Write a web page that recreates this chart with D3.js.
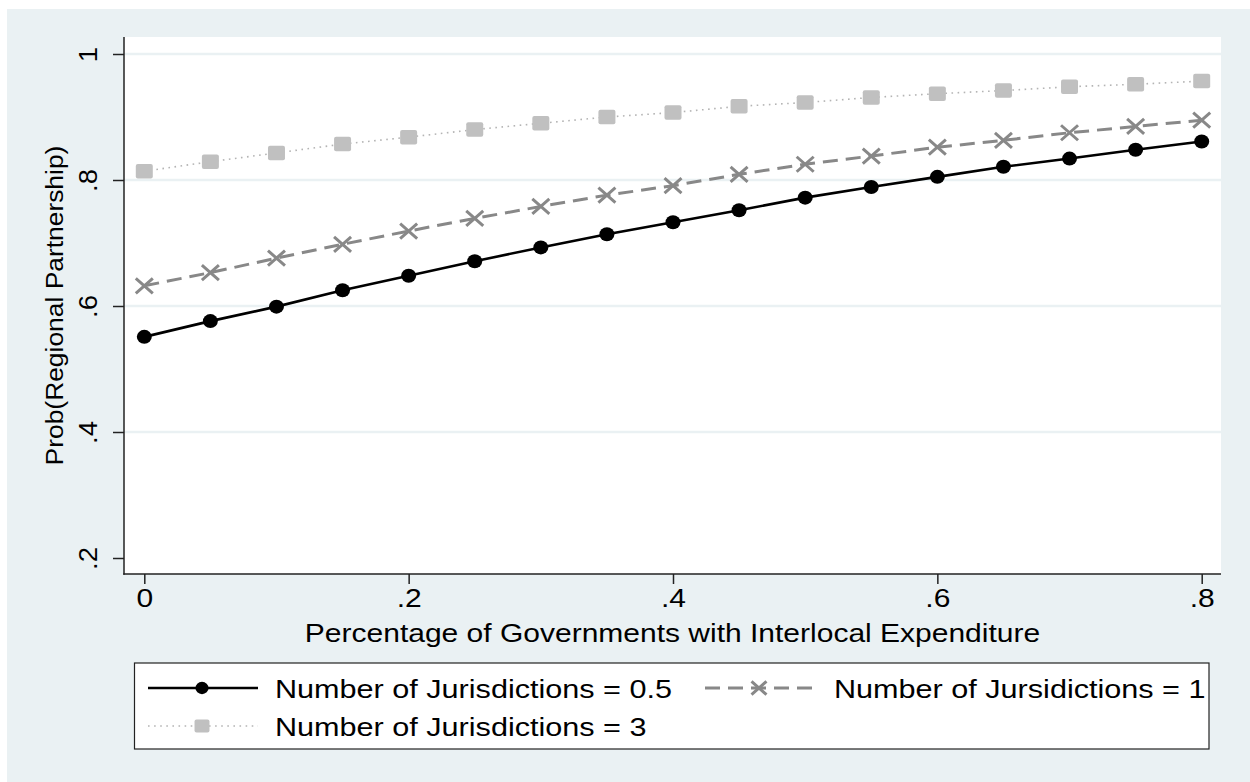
<!DOCTYPE html>
<html>
<head>
<meta charset="utf-8">
<script src="https://cdn.jsdelivr.net/npm/d3@7"></script>
<style>
  html, body { margin: 0; padding: 0; background: #ffffff; }
  svg { display: block; }
  text { font-family: "Liberation Sans", Arial, Helvetica, sans-serif; fill: #000; }
</style>
</head>
<body>
<svg id="chart" width="1250" height="782"></svg>
<script>
// Share of governments with interlocal expenditure (x values)
const shareInterlocal = [0, 0.05, 0.10, 0.15, 0.20, 0.25, 0.30, 0.35, 0.40,
                         0.45, 0.50, 0.55, 0.60, 0.65, 0.70, 0.75, 0.80];

// Predicted probability of a regional partnership, by number of jurisdictions
const probJur05 = [0.551, 0.576, 0.599, 0.625, 0.648, 0.671, 0.693, 0.714, 0.733,
                   0.752, 0.772, 0.789, 0.805, 0.821, 0.834, 0.848, 0.861];
const probJur1  = [0.632, 0.653, 0.676, 0.698, 0.719, 0.739, 0.758, 0.776, 0.791,
                   0.809, 0.825, 0.838, 0.852, 0.863, 0.875, 0.885, 0.895];
const probJur3  = [0.814, 0.829, 0.843, 0.857, 0.868, 0.880, 0.890, 0.900, 0.907,
                   0.917, 0.923, 0.931, 0.937, 0.942, 0.948, 0.952, 0.957];

const seriesLabels = ["Number of Jurisdictions = 0.5",
                      "Number of Jursidictions = 1",
                      "Number of Jurisdictions = 3"];

const xTickValues = [0, 0.2, 0.4, 0.6, 0.8];
const xTickLabels = ["0", ".2", ".4", ".6", ".8"];
const yTickValues = [0.2, 0.4, 0.6, 0.8, 1];
const yTickLabels = [".2", ".4", ".6", ".8", "1"];
const gridValues  = [0.4, 0.6, 0.8, 1];

const xTitle = "Percentage of Governments with Interlocal Expenditure";
const yTitle = "Prob(Regional Partnership)";

// ---- layout ----
const svg = d3.select("#chart");
const graphBg = "#eaf1f3";
const plot = { left: 124, right: 1221, top: 37, bottom: 574 };
const textStretch = 1.2;   // wide rendering of horizontal text
const rotStretch = 1.1;    // stretch along rotated text

const x = d3.scaleLinear().domain([0, 0.8]).range([144.3, 1201.7]);
const y = d3.scaleLinear().domain([0.2, 1]).range([558, 54]);

// graph region background
svg.append("rect").attr("x", 7).attr("y", 9).attr("width", 1243).attr("height", 773)
  .attr("fill", graphBg);

// plot region
svg.append("rect")
  .attr("x", plot.left).attr("y", plot.top)
  .attr("width", plot.right - plot.left).attr("height", plot.bottom - plot.top)
  .attr("fill", "#ffffff");

// horizontal grid lines
svg.append("g").selectAll("line").data(gridValues).join("line")
  .attr("x1", plot.left).attr("x2", plot.right)
  .attr("y1", d => y(d)).attr("y2", d => y(d))
  .attr("stroke", graphBg).attr("stroke-width", 2.5);

// ---- axes ----
const yAxis = d3.axisLeft(y).tickValues(yTickValues).tickSize(11).tickSizeOuter(0)
  .tickFormat((d, i) => yTickLabels[i]);
const gy = svg.append("g").attr("transform", `translate(${plot.left},0)`).call(yAxis);
gy.select(".domain").remove();
gy.selectAll(".tick line").attr("stroke", "#222").attr("stroke-width", 1.5);
gy.selectAll(".tick text")
  .attr("x", null).attr("dy", null)
  .attr("text-anchor", "middle")
  .attr("font-size", 25)
  .attr("font-family", "Liberation Sans, Arial, sans-serif")
  .attr("fill", "#000")
  .attr("transform", `translate(-27,0) rotate(-90) scale(${rotStretch},1)`);

const xAxis = d3.axisBottom(x).tickValues(xTickValues).tickSize(10).tickSizeOuter(0)
  .tickFormat((d, i) => xTickLabels[i]);
const gx = svg.append("g").attr("transform", `translate(0,${plot.bottom})`).call(xAxis);
gx.select(".domain").remove();
gx.selectAll(".tick line").attr("stroke", "#222").attr("stroke-width", 1.5);
gx.selectAll(".tick text")
  .attr("y", null).attr("dy", null)
  .attr("text-anchor", "middle")
  .attr("font-size", 25)
  .attr("font-family", "Liberation Sans, Arial, sans-serif")
  .attr("fill", "#000")
  .attr("transform", `translate(0,33) scale(${textStretch},1)`);

// axis lines
svg.append("line").attr("x1", plot.left).attr("x2", plot.left)
  .attr("y1", plot.top).attr("y2", plot.bottom + 0.75)
  .attr("stroke", "#222").attr("stroke-width", 1.5);
svg.append("line").attr("x1", plot.left - 0.75).attr("x2", plot.right)
  .attr("y1", plot.bottom).attr("y2", plot.bottom)
  .attr("stroke", "#222").attr("stroke-width", 1.5);

// axis titles
svg.append("text")
  .attr("text-anchor", "middle").attr("font-size", 25)
  .attr("transform", `translate(${(plot.left + plot.right) / 2},642) scale(${textStretch},1)`)
  .text(xTitle);
svg.append("text")
  .attr("text-anchor", "middle").attr("font-size", 24)
  .attr("transform", `translate(63,${(plot.top + plot.bottom) / 2}) rotate(-90) scale(${rotStretch},1)`)
  .text(yTitle);

// ---- series ----
const series = [
  { values: probJur05, color: "#000000", width: 2.6, dash: null, marker: "circle" },
  { values: probJur1,  color: "#888888", width: 3,   dash: "15,8", marker: "x" },
  { values: probJur3,  color: "#b4b4b4", width: 1.6, dash: "1.6,4.5", marker: "square" }
];

const line = d3.line().x(d => x(d[0])).y(d => y(d[1]));

function drawMarker(g, kind, color, cx, cy, s) {
  if (kind === "circle") {
    g.append("ellipse").attr("cx", cx).attr("cy", cy)
      .attr("rx", 7.5 * s).attr("ry", 7 * s).attr("fill", color);
  } else if (kind === "x") {
    const hw = 8.5 * s, hh = 7.5 * s;
    g.append("path")
      .attr("d", `M${cx - hw},${cy - hh}L${cx + hw},${cy + hh}M${cx - hw},${cy + hh}L${cx + hw},${cy - hh}`)
      .attr("stroke", color).attr("stroke-width", 3).attr("fill", "none");
  } else {
    const w = 17 * s, h = 14.5 * s;
    g.append("rect").attr("x", cx - w / 2).attr("y", cy - h / 2)
      .attr("width", w).attr("height", h).attr("rx", 2)
      .attr("fill", "#c0c0c0");
  }
}

// draw back to front: lightest series first
[2, 1, 0].forEach(k => {
  const s = series[k];
  const pts = shareInterlocal.map((v, i) => [v, s.values[i]]);
  const g = svg.append("g");
  g.append("path").datum(pts).attr("d", line)
    .attr("fill", "none").attr("stroke", s.color).attr("stroke-width", s.width)
    .attr("stroke-dasharray", s.dash);
  pts.forEach(p => drawMarker(g, s.marker, s.color, x(p[0]), y(p[1]), 1));
});

// ---- legend ----
const legend = { left: 134.5, right: 1209, top: 663, bottom: 749 };
svg.append("rect")
  .attr("x", legend.left).attr("y", legend.top)
  .attr("width", legend.right - legend.left).attr("height", legend.bottom - legend.top)
  .attr("fill", "#ffffff").attr("stroke", "#222").attr("stroke-width", 1.2);

const legendItems = [
  { s: 0, keyX: 148, textX: 275, rowY: 688 },
  { s: 1, keyX: 705, textX: 834, rowY: 688 },
  { s: 2, keyX: 148, textX: 275, rowY: 726 }
];
legendItems.forEach(it => {
  const s = series[it.s];
  const g = svg.append("g");
  g.append("line").attr("x1", it.keyX).attr("x2", it.keyX + 110)
    .attr("y1", it.rowY).attr("y2", it.rowY)
    .attr("stroke", s.color).attr("stroke-width", s.width)
    .attr("stroke-dasharray", s.dash);
  drawMarker(g, s.marker, s.color, it.keyX + 54, it.rowY, 0.88);
  g.append("text").attr("font-size", 25.5)
    .attr("transform", `translate(${it.textX},${it.rowY + 10}) scale(${textStretch},1)`)
    .text(seriesLabels[it.s]);
});
</script>
</body>
</html>
